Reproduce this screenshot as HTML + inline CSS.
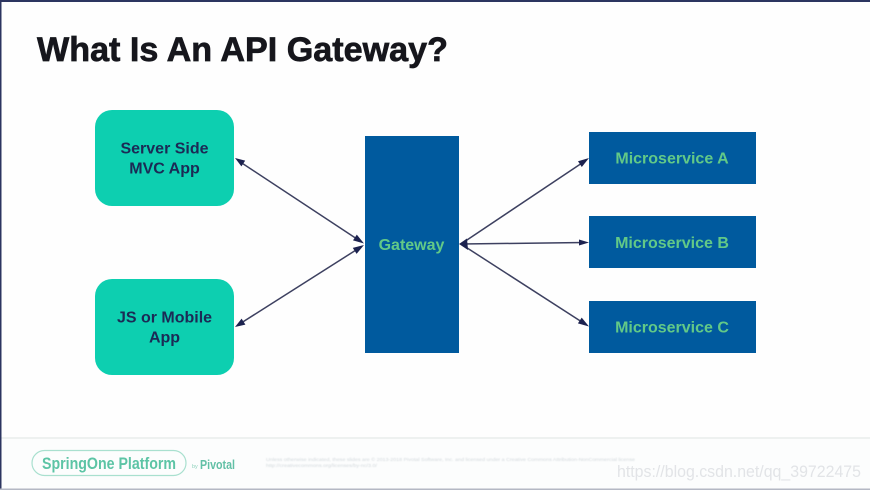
<!DOCTYPE html>
<html>
<head>
<meta charset="utf-8">
<style>
html,body{margin:0;padding:0;background:#fff;width:870px;height:490px;overflow:hidden}
svg{display:block;font-family:"Liberation Sans",sans-serif}
</style>
</head>
<body>
<svg width="870" height="490" viewBox="0 0 870 490" xmlns="http://www.w3.org/2000/svg">
<defs>
<filter id="b" x="-5%" y="-20%" width="110%" height="140%"><feGaussianBlur stdDeviation="0.35"/></filter>
<filter id="b2" x="-5%" y="-50%" width="110%" height="200%"><feGaussianBlur stdDeviation="0.6"/></filter>
<filter id="b3" x="-5%" y="-5%" width="110%" height="110%"><feGaussianBlur stdDeviation="0.3"/></filter>
</defs>
<rect width="870" height="490" fill="#fefefe"/>
<rect x="0" y="438" width="870" height="52" fill="#fcfdfd"/>
<rect x="0" y="437" width="870" height="2" fill="#eef1f0"/>
<rect x="0" y="0" width="870" height="2" fill="#2c3560"/>
<rect x="0" y="0" width="1.5" height="490" fill="#2c3560"/>
<rect x="0" y="488.5" width="870" height="1.5" fill="#b4b8c4"/>

<text x="37" y="61" font-size="34" font-weight="700" fill="#15181f" stroke="#15181f" stroke-width="0.7" textLength="411" lengthAdjust="spacingAndGlyphs" filter="url(#b)">What Is An API Gateway?</text>

<g filter="url(#b3)">
<rect x="95" y="110" width="139" height="96" rx="17" fill="#0acfb0"/>
<rect x="95" y="279" width="139" height="96" rx="17" fill="#0acfb0"/>
<rect x="365" y="136" width="94" height="217" fill="#035a9e"/>
<rect x="589" y="132" width="167" height="52" fill="#035a9e"/>
<rect x="589" y="216" width="167" height="52" fill="#035a9e"/>
<rect x="589" y="301" width="167" height="52" fill="#035a9e"/>
</g>
<g font-size="16" font-weight="700" fill="#1a2a55" text-anchor="middle" filter="url(#b)">
<text x="164.500" y="153.500">Server Side</text>
<text x="164.500" y="173.500">MVC App</text>
<text x="164.500" y="322.500">JS or Mobile</text>
<text x="164.500" y="342.500">App</text>
</g>
<g font-size="16" font-weight="700" fill="#62c987" text-anchor="middle" filter="url(#b)">
<text x="411.500" y="250">Gateway</text>
<text x="672" y="163.500">Microservice A</text>
<text x="672" y="248">Microservice B</text>
<text x="672" y="332.500">Microservice C</text>
</g>

<g filter="url(#b3)">
<g stroke="#3d4160" stroke-width="1.5" fill="none">
<line x1="238" y1="160.500" x2="360" y2="241"/>
<line x1="238" y1="325" x2="360" y2="247.500"/>
<line x1="461" y1="244" x2="585" y2="161"/>
<line x1="461" y1="244" x2="585" y2="242.500"/>
<line x1="461" y1="244" x2="585" y2="324"/>
</g>
<g fill="#1f2450">
<polygon points="235,158 245.200,160.600 241.400,166.400"/>
<polygon points="364,243.500 353,240.400 356.800,234.600"/>
<polygon points="235,327 241.600,318.600 245.400,324.600"/>
<polygon points="364,245 352.800,247.900 356.600,253.900"/>
<polygon points="459,244 467,238.500 468,250"/>
<polygon points="589,158 578,161.200 581.800,167"/>
<polygon points="589,242.500 579,239.500 579,245.500"/>
<polygon points="589,326.500 581.700,317.600 577.900,323.400"/>
</g>
</g>

<rect x="32" y="450.500" width="154" height="25" rx="12.500" fill="none" stroke="#a9e0cf" stroke-width="1.2"/>
<text x="42" y="469" font-size="16.500" font-weight="700" fill="#5cc4a5" textLength="134" lengthAdjust="spacingAndGlyphs" filter="url(#b)">SpringOne Platform</text>
<text x="192" y="468" font-size="5.500" fill="#8fd2bd">by</text>
<text x="200" y="469" font-size="12.500" font-weight="700" fill="#62c0a6" textLength="35" lengthAdjust="spacingAndGlyphs" filter="url(#b)">Pivotal</text>

<g font-size="4.600" fill="#d2d8dc" filter="url(#b2)">
<text x="266" y="461" textLength="369" lengthAdjust="spacingAndGlyphs">Unless otherwise indicated, these slides are © 2013-2018 Pivotal Software, Inc. and licensed under a Creative Commons Attribution-NonCommercial license</text>
<text x="266" y="467" textLength="111" lengthAdjust="spacingAndGlyphs">http://creativecommons.org/licenses/by-nc/3.0/</text>
</g>

<text x="617" y="477" font-size="16.500" fill="#e2e4e7" textLength="244" lengthAdjust="spacingAndGlyphs" filter="url(#b)">https://blog.csdn.net/qq_39722475</text>
</svg>
</body>
</html>
